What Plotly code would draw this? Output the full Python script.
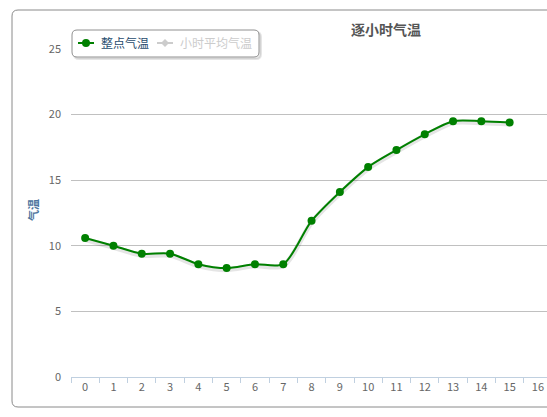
import plotly.graph_objects as go

hours = [str(i) for i in range(17)]
temp_hours = [str(i) for i in range(16)]
temp_values = [10.6, 10.0, 9.4, 9.4, 8.6, 8.3, 8.6, 8.6, 11.9, 14.1, 16.0, 17.3, 18.5, 19.5, 19.5, 19.4]
avg_values = [10.4, 9.8, 9.4, 9.2, 8.5, 8.3, 8.5, 9.0, 11.5, 13.8, 15.7, 17.1, 18.3, 19.3, 19.5, 19.4]
y_ticks = [0, 5, 10, 15, 20, 25]
series_names = ["整点气温", "小时平均气温"]

W, H = 547, 417
L, R, T, B = 71, 547, 49, 377

def px(x):
    return (x - L) / (R - L)

def py(y):
    return (B - y) / (B - T)

fig = go.Figure()

fig.add_trace(go.Scatter(
    x=temp_hours, y=[v - 0.12 for v in temp_values], mode="lines",
    line=dict(color="rgba(0,0,0,0.10)", width=5, shape="spline", smoothing=0.8),
    showlegend=False, hoverinfo="skip"))

fig.add_trace(go.Scatter(
    x=temp_hours, y=temp_values, mode="lines+markers", name=series_names[0],
    line=dict(color="#008000", width=2, shape="spline", smoothing=0.8),
    marker=dict(color="#008000", size=8, symbol="circle"), showlegend=False))

fig.add_trace(go.Scatter(
    x=temp_hours, y=avg_values, mode="lines+markers", name=series_names[1],
    line=dict(color="#aaaaaa", width=2, shape="spline", smoothing=0.8),
    marker=dict(color="#aaaaaa", size=7, symbol="diamond"),
    visible="legendonly", showlegend=False))

def rounded_rect(x0, y0, x1, y1, r):
    X0, X1 = px(x0), px(x1)
    Y0, Y1 = py(y0), py(y1)
    rx = r / (R - L)
    ry = r / (B - T)
    return (f"M {X0+rx},{Y0} L {X1-rx},{Y0} Q {X1},{Y0} {X1},{Y0-ry} "
            f"L {X1},{Y1+ry} Q {X1},{Y1} {X1-rx},{Y1} L {X0+rx},{Y1} "
            f"Q {X0},{Y1} {X0},{Y1+ry} L {X0},{Y0-ry} Q {X0},{Y0} {X0+rx},{Y0} Z")

def diamond(cx, cy, r):
    return (f"M {px(cx)},{py(cy - r)} L {px(cx + r)},{py(cy)} "
            f"L {px(cx)},{py(cy + r)} L {px(cx - r)},{py(cy)} Z")

LY = 43  # legend row y (px)
shapes = [
    dict(type="path", xref="paper", yref="paper", layer="below",
         path=rounded_rect(12, 10, 580, 407, 6),
         line=dict(color="#8a8a8a", width=1), fillcolor="rgba(0,0,0,0)"),
    dict(type="path", xref="paper", yref="paper", layer="above",
         path=rounded_rect(74, 32, 261, 59, 5),
         line=dict(color="rgba(0,0,0,0.10)", width=2), fillcolor="rgba(0,0,0,0.08)"),
    dict(type="path", xref="paper", yref="paper", layer="above",
         path=rounded_rect(72, 30, 259, 57, 5),
         line=dict(color="#909090", width=1), fillcolor="white"),
    dict(type="line", xref="paper", yref="paper", layer="above",
         x0=px(78), x1=px(94), y0=py(LY), y1=py(LY),
         line=dict(color="#008000", width=2)),
    dict(type="circle", xref="paper", yref="paper", layer="above",
         x0=px(82), x1=px(90), y0=py(LY - 4), y1=py(LY + 4),
         line=dict(color="#008000", width=0), fillcolor="#008000"),
    dict(type="line", xref="paper", yref="paper", layer="above",
         x0=px(157), x1=px(173), y0=py(LY), y1=py(LY),
         line=dict(color="#cccccc", width=2)),
    dict(type="path", xref="paper", yref="paper", layer="above",
         path=diamond(165, LY, 4),
         line=dict(color="#cccccc", width=0), fillcolor="#cccccc"),
]

annotations = [
    dict(text="<b>逐小时气温</b>", xref="paper", yref="paper", x=px(386), y=py(29),
         showarrow=False, font=dict(size=14, color="#555555", family="Noto Sans CJK SC"),
         xanchor="center", yanchor="middle"),
    dict(text="<b>气温</b>", xref="paper", yref="paper", x=px(33), y=py(210),
         showarrow=False, textangle=-90,
         font=dict(size=11, color="#4d759e", family="Noto Sans CJK SC"),
         xanchor="center", yanchor="middle"),
    dict(text=series_names[0], xref="paper", yref="paper", x=px(99), y=py(LY),
         showarrow=False, font=dict(size=12, color="#274b6d", family="Noto Sans CJK SC"),
         xanchor="left", yanchor="middle"),
    dict(text=series_names[1], xref="paper", yref="paper", x=px(178), y=py(LY),
         showarrow=False, font=dict(size=12, color="#cccccc", family="Noto Sans CJK SC"),
         xanchor="left", yanchor="middle"),
]

fig.update_layout(
    width=W, height=H,
    margin=dict(l=L, r=W - R, t=T, b=H - B, autoexpand=False),
    paper_bgcolor="white", plot_bgcolor="white",
    font=dict(family="Noto Sans CJK SC", size=11, color="#666666"),
    shapes=shapes, annotations=annotations,
    showlegend=False,
    xaxis=dict(type="category", categoryorder="array", categoryarray=hours,
               tickvals=hours, ticktext=hours, range=[-0.5, 16.32],
               showgrid=False, showline=True, linecolor="#C0D0E0", linewidth=1,
               ticks="outside", tickson="boundaries", ticklen=5, tickcolor="#C0D0E0",
               tickfont=dict(size=11, color="#666666"), zeroline=False, fixedrange=True,
               automargin=False, ticklabeloverflow="allow"),
    yaxis=dict(range=[0, 25], tickvals=y_ticks, showgrid=True, gridcolor="#C0C0C0",
               gridwidth=1, zeroline=False, showline=False, ticks="",
               tickfont=dict(size=11, color="#666666"), ticklabelstandoff=9,
               fixedrange=True, automargin=False),
)

fig.write_html("out.html", config={"displayModeBar": False},
               post_script="document.body.style.margin='0';document.body.style.overflow='hidden';")
